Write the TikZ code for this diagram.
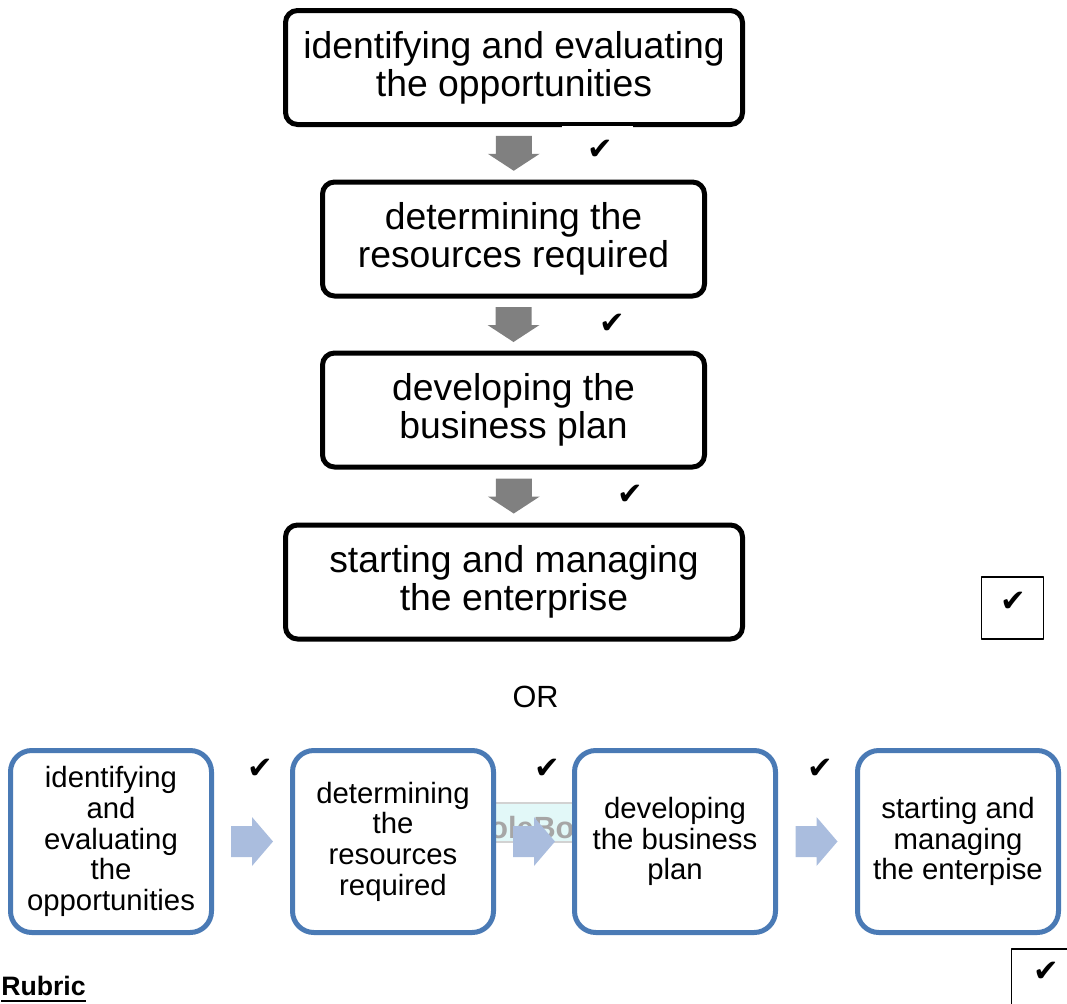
\documentclass[tikz,border=0pt]{standalone}
\usepackage{fontspec}
\setmainfont{Liberation Sans}
\newfontfamily\tickfont{DejaVu Sans}
\usetikzlibrary{calc}
\definecolor{smartblue}{RGB}{74,122,181}
\definecolor{arrowgrey}{RGB}{128,128,128}
\definecolor{arrowblue}{RGB}{170,189,222}
\definecolor{markcyan}{RGB}{226,248,248}
\tikzset{
	stepbox/.style={draw=black,line width=3.75pt,rounded corners=9pt,fill=white,align=center,inner sep=0pt,font=\fontsize{28}{28.5}\selectfont},
	widebox/.style={stepbox,minimum width=342.75pt,minimum height=85.5pt},
	narrowbox/.style={stepbox,minimum width=286.5pt,minimum height=85.5pt},
	flowbox/.style={draw=smartblue,line width=3.75pt,rounded corners=16pt,fill=white,align=center,inner sep=0pt,minimum width=150.75pt,minimum height=136.5pt,font=\fontsize{22}{23}\selectfont},
	checkmk/.style={inner sep=0pt,font=\tickfont\fontsize{23}{23}\selectfont},
	tickbox/.style={draw,line width=1.1pt,minimum width=46.5pt,minimum height=46.5pt,inner sep=0pt},
	downarr/.pic={\fill[arrowgrey] (-18,-17.5) -- (18,-17.5) -- (18,0.5) -- (26,0.5) -- (0,17.5) -- (-26,0.5) -- (-18,0.5) -- cycle;},
	rightarr/.pic={\fill[arrowblue] (-21,-15.5) -- (0,-15.5) -- (0,-24.5) -- (21,0) -- (0,24.5) -- (0,15.5) -- (-21,15.5) -- cycle;}
}
\begin{document}
\begin{tikzpicture}[x=0.75pt,y=-0.75pt,line join=round]
	\useasboundingbox (0,0) rectangle (1067,1003);
	\fill[markcyan] (486,803) rectangle (576,842);
	\draw[gray!35,line width=1pt] (486,803) -- (576,803) (486,842) -- (576,842);
	\node[anchor=base west,inner sep=0pt,text=gray!70,font=\bfseries\fontsize{23}{23}\selectfont] (mark) at (489,838) {oleBo};
	\node[widebox] (t1) at (514,67.5) {identifying and evaluating\\the opportunities};
	\node[narrowbox] (t2) at (513.5,239) {determining the\\resources required};
	\node[narrowbox] (t3) at (513.5,410) {developing the\\business plan};
	\node[widebox] (t4) at (514,582) {starting and managing\\the enterprise};
	\foreach \a/\b in {t1/t2,t2/t3,t3/t4}\path ($(\a.south)!0.5!(\b.north)$) pic{downarr};
	\fill[white] (562,125.5) rectangle (633,138);
	\node[font=\fontsize{23}{23}\selectfont,inner sep=0pt] (or) at (535.5,697) {OR};
	\node[flowbox] (b1) at (111,841.5) {identifying\\and\\evaluating\\the\\opportunities};
	\node[flowbox] (b2) at (393,841.5) {determining\\the\\resources\\required};
	\node[flowbox] (b3) at (675,841.5) {developing\\the business\\plan};
	\node[flowbox] (b4) at (958,841.5) {starting and\\managing\\the enterpise};
	\foreach \a/\b in {b1/b2,b2/b3,b3/b4}\path ($(\a.east)!0.5!(\b.west)$) pic{rightarr};
	\foreach \p/\n in {{(600,150)}/c1,{(612,324)}/c2,{(630,495)}/c3,{(260,769)}/c4,{(547,769)}/c5,{(820,769)}/c6}\node[checkmk] (\n) at \p {✔};
	\node[tickbox] (k1) at (1012.5,608) {};
	\node[tickbox] (k2) at (1042.5,980) {};
	\node[checkmk] (c7) at ($(k1)+(0.5,-6)$) {✔};
	\node[checkmk] (c8) at ($(k2)+(3.5,-8)$) {✔};
	\node[anchor=base west,inner sep=0pt,font=\bfseries\fontsize{20}{20}\selectfont] (rub) at (1,995) {Rubric};
	\draw[line width=2.2pt] ($(rub.base west)+(0,6)$) -- ($(rub.base east)+(0,6)$);
\end{tikzpicture}
\end{document}
